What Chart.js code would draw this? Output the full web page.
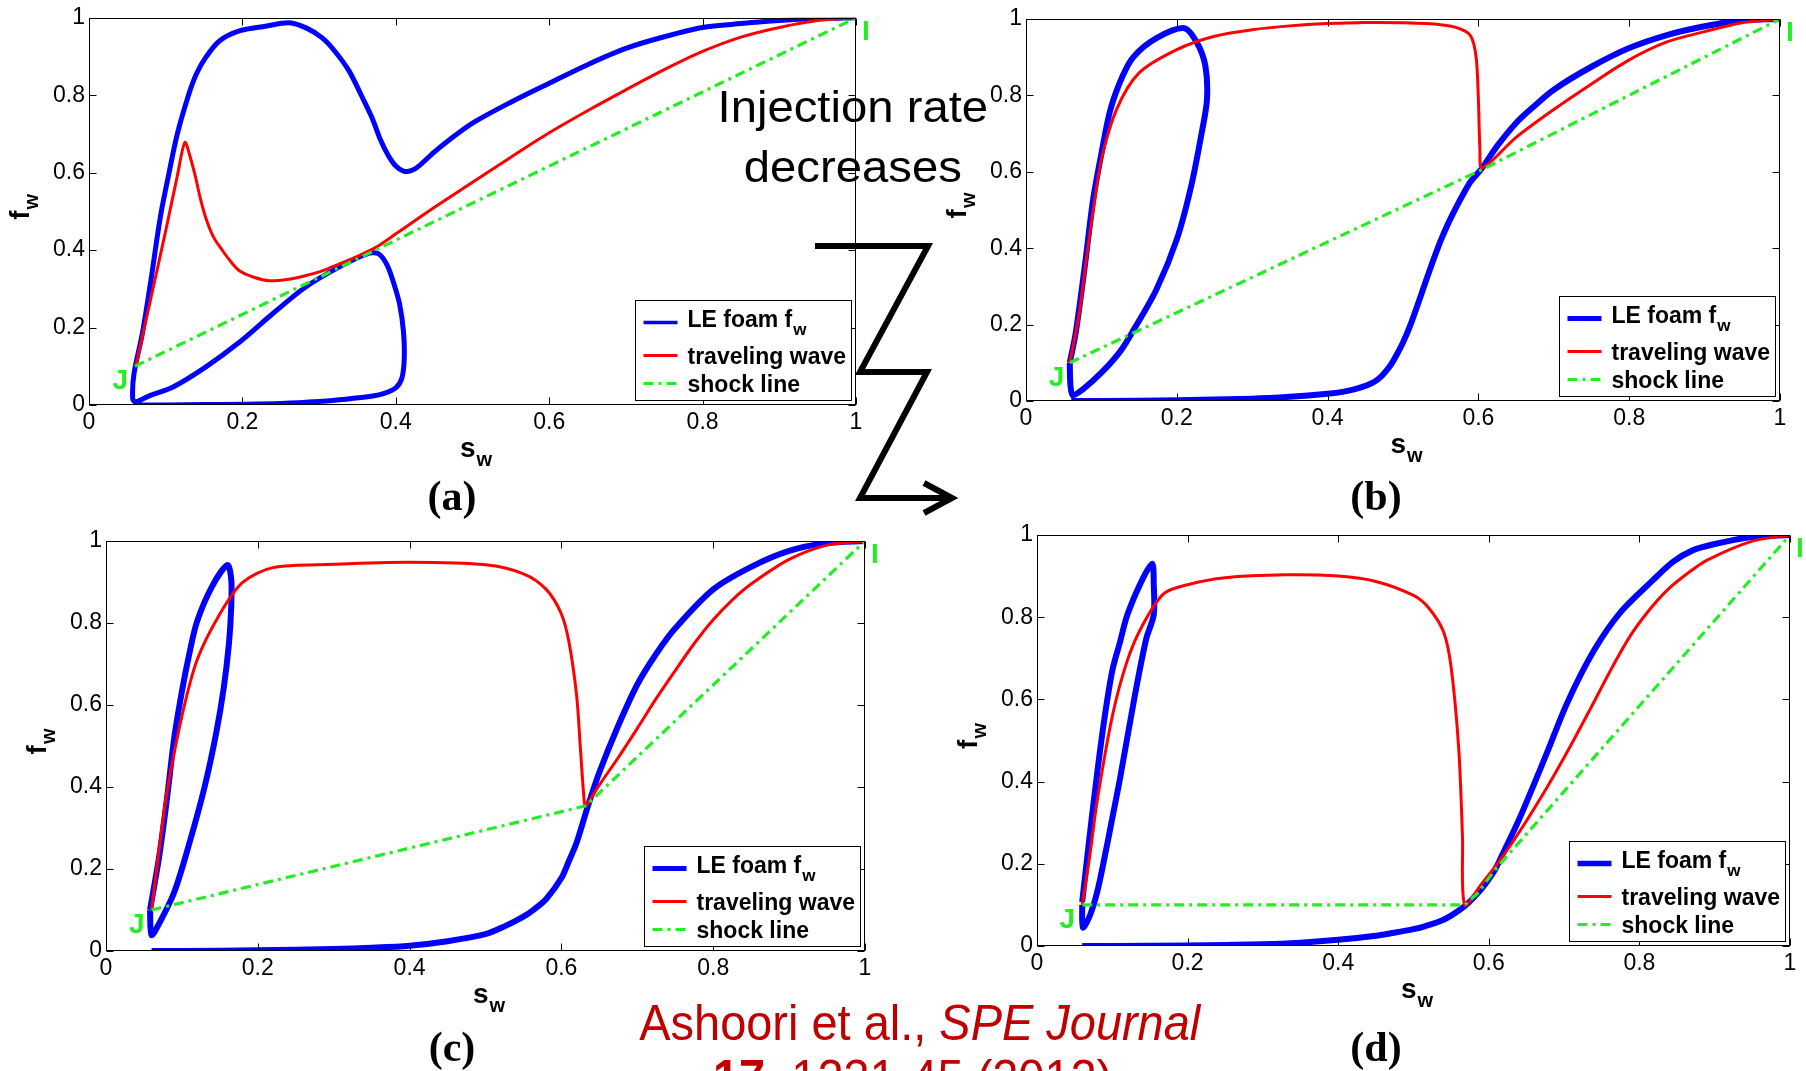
<!DOCTYPE html>
<html>
<head>
<meta charset="utf-8">
<script src="https://cdn.jsdelivr.net/npm/chart.js@4.4.1/dist/chart.umd.min.js"></script>
<style>
  html, body { margin:0; padding:0; background:#fff; }
  body { width:1806px; height:1071px; overflow:hidden; position:relative; font-family:"Liberation Sans", Arial, sans-serif; }
  canvas.panel { position:absolute; left:0; top:0; }
  .abs { position:absolute; white-space:nowrap; line-height:1; }
  .center { text-align:center; }
  .center > span { display:inline-block; transform-origin:50% 50%; }
  .note { font-size:45px; color:#000; }
  .tag { font-family:"Liberation Serif", "Times New Roman", serif; font-weight:bold; font-size:42px; color:#000; }
  .cite { font-size:50px; color:#c00000; }
  svg { position:absolute; left:0; top:0; }
</style>
</head>
<body>
<canvas id="cA" class="panel" width="1806" height="1071"></canvas>
<canvas id="cB" class="panel" width="1806" height="1071"></canvas>
<canvas id="cC" class="panel" width="1806" height="1071"></canvas>
<canvas id="cD" class="panel" width="1806" height="1071"></canvas>

<svg width="1806" height="1071" viewBox="0 0 1806 1071">
  <polyline points="815,246 928,246 860,372 927,372 860,498 950,498" fill="none" stroke="#000" stroke-width="6" stroke-linejoin="miter"/>
  <polyline points="924,483 952,498 924,513" fill="none" stroke="#000" stroke-width="6" stroke-linejoin="miter"/>
</svg>

<div class="abs center note" style="left:653px;width:400px;top:83.9px"><span style="transform:scaleX(1.05)">Injection rate</span></div>
<div class="abs center note" style="left:653px;width:400px;top:143.9px"><span style="transform:scaleX(1.05)">decreases</span></div>

<div class="abs center tag" style="left:352px;width:200px;top:474.8px"><span id="tagA"></span></div>
<div class="abs center tag" style="left:1276px;width:200px;top:474.8px"><span id="tagB"></span></div>
<div class="abs center tag" style="left:352px;width:200px;top:1025.8px"><span id="tagC"></span></div>
<div class="abs center tag" style="left:1276px;width:200px;top:1025.8px"><span id="tagD"></span></div>

<div class="abs center cite" style="left:420px;width:1000px;top:997.7px"><span id="cite1">Ashoori et al., <i>SPE Journal</i></span></div>
<div class="abs center cite" style="left:413px;width:1000px;top:1052.7px"><span id="cite2"><b>17</b>, 1231-45 (2012)</span></div>

<script>
// ---------------- data ----------------
const xTicks = [0, 0.2, 0.4, 0.6, 0.8, 1];
const yTicks = [0, 0.2, 0.4, 0.6, 0.8, 1];
const seriesLabels = ['LE foam f_w', 'traveling wave', 'shock line'];
const panelTags = ['(a)', '(b)', '(c)', '(d)'];
const xTitle = ['s', 'w'];
const yTitle = ['f', 'w'];
const pointJ = [0.06, 0.1];
const pointI = [1, 1];

// panel (a)  [s_w, f_w]
const foamA = [[1,1],[0.95,0.998],[0.9,0.993],[0.85,0.985],[0.8,0.975],[0.75,0.951],[0.7,0.921],[0.65,0.879],[0.6,0.831],[0.55,0.782],[0.5,0.728],[0.47,0.685],[0.45,0.653],[0.43,0.617],[0.42,0.605],[0.41,0.604],[0.4,0.617],[0.39,0.645],[0.38,0.685],[0.369,0.742],[0.355,0.8],[0.339,0.863],[0.32,0.915],[0.304,0.948],[0.285,0.972],[0.261,0.987],[0.23,0.978],[0.196,0.966],[0.17,0.94],[0.152,0.897],[0.14,0.855],[0.13,0.802],[0.115,0.699],[0.104,0.596],[0.093,0.485],[0.08,0.313],[0.0695,0.184],[0.0587,0.081],[0.057,0.016],[0.061,0.008],[0.08,0.025],[0.109,0.046],[0.152,0.098],[0.196,0.162],[0.239,0.235],[0.282,0.304],[0.326,0.356],[0.365,0.392],[0.378,0.39],[0.389,0.36],[0.398,0.31],[0.405,0.26],[0.41,0.19],[0.411,0.12],[0.408,0.07],[0.4,0.044],[0.385,0.03],[0.37,0.023],[0.33,0.014],[0.3,0.009],[0.25,0.004],[0.2,0.002],[0.15,0.001],[0.1,0],[0.06,0]];
const waveA = [[0.061,0.1],[0.08,0.27],[0.1,0.45],[0.115,0.59],[0.125,0.678],[0.132,0.64],[0.139,0.588],[0.145,0.535],[0.152,0.485],[0.162,0.435],[0.174,0.399],[0.185,0.37],[0.196,0.347],[0.215,0.33],[0.235,0.321],[0.26,0.325],[0.282,0.334],[0.305,0.347],[0.326,0.364],[0.35,0.384],[0.374,0.407],[0.4,0.442],[0.45,0.51],[0.5,0.575],[0.55,0.64],[0.6,0.703],[0.65,0.76],[0.7,0.814],[0.75,0.866],[0.8,0.913],[0.85,0.95],[0.9,0.975],[0.95,0.993],[1,1]];
const shockA = [[0.06,0.1],[1,1]];

// panel (b)
const foamB = [[1,1],[0.95,0.997],[0.9,0.981],[0.85,0.958],[0.8,0.924],[0.75,0.875],[0.7,0.815],[0.67,0.765],[0.65,0.728],[0.625,0.668],[0.605,0.61],[0.59,0.575],[0.58,0.542],[0.57,0.505],[0.56,0.465],[0.55,0.42],[0.54,0.368],[0.53,0.312],[0.52,0.255],[0.51,0.2],[0.5,0.153],[0.49,0.115],[0.483,0.092],[0.472,0.066],[0.46,0.048],[0.44,0.033],[0.42,0.024],[0.4,0.019],[0.35,0.011],[0.3,0.006],[0.2,0.002],[0.1,0],[0.06,0],[0.06,null],[0.058,0.1],[0.059,0.04],[0.062,0.015],[0.075,0.03],[0.1,0.074],[0.125,0.13],[0.143,0.187],[0.173,0.292],[0.2,0.423],[0.219,0.562],[0.233,0.702],[0.24,0.789],[0.238,0.876],[0.227,0.937],[0.21,0.976],[0.173,0.95],[0.143,0.902],[0.128,0.85],[0.112,0.763],[0.101,0.658],[0.089,0.527],[0.078,0.353],[0.066,0.179],[0.058,0.1]];
const waveB = [[0.058,0.1],[0.07,0.222],[0.08,0.37],[0.09,0.51],[0.1,0.632],[0.12,0.763],[0.15,0.859],[0.2,0.92],[0.25,0.955],[0.3,0.972],[0.35,0.982],[0.4,0.988],[0.45,0.991],[0.5,0.99],[0.55,0.985],[0.575,0.975],[0.59,0.955],[0.597,0.9],[0.6,0.79],[0.602,0.66],[0.605,0.61],[0.65,0.69],[0.7,0.763],[0.75,0.83],[0.8,0.893],[0.85,0.94],[0.9,0.967],[0.95,0.99],[1,1]];
const shockB = [[0.058,0.1],[0.605,0.606],[1,1]];

// panel (c)
const foamC = [[1,1],[0.95,0.995],[0.9,0.976],[0.85,0.937],[0.8,0.882],[0.75,0.787],[0.725,0.725],[0.7,0.65],[0.675,0.55],[0.65,0.436],[0.635,0.354],[0.62,0.264],[0.61,0.22],[0.6,0.178],[0.58,0.127],[0.565,0.103],[0.55,0.084],[0.525,0.06],[0.5,0.041],[0.45,0.024],[0.4,0.013],[0.35,0.008],[0.3,0.005],[0.2,0.002],[0.1,0],[0.06,0],[0.06,null],[0.058,0.1],[0.06,0.039],[0.07,0.067],[0.09,0.144],[0.11,0.264],[0.13,0.401],[0.145,0.53],[0.155,0.64],[0.162,0.75],[0.165,0.84],[0.165,0.907],[0.16,0.941],[0.14,0.89],[0.12,0.804],[0.11,0.727],[0.1,0.633],[0.09,0.521],[0.08,0.367],[0.07,0.23],[0.058,0.1]];
const waveC = [[0.06,0.1],[0.07,0.247],[0.08,0.384],[0.1,0.573],[0.12,0.71],[0.15,0.822],[0.18,0.899],[0.22,0.935],[0.3,0.943],[0.4,0.948],[0.5,0.942],[0.55,0.92],[0.58,0.882],[0.6,0.822],[0.61,0.753],[0.62,0.624],[0.625,0.496],[0.63,0.367],[0.632,0.354],[0.65,0.405],[0.675,0.472],[0.7,0.543],[0.725,0.616],[0.75,0.684],[0.775,0.75],[0.8,0.808],[0.825,0.856],[0.85,0.895],[0.9,0.955],[0.95,0.99],[1,1]];
const shockC = [[0.06,0.1],[0.632,0.354],[1,1]];

// panel (d)
const foamD = [[1,1],[0.95,0.995],[0.9,0.978],[0.87,0.962],[0.845,0.935],[0.818,0.89],[0.774,0.81],[0.74,0.72],[0.705,0.595],[0.675,0.46],[0.64,0.307],[0.62,0.23],[0.608,0.185],[0.595,0.15],[0.58,0.118],[0.568,0.097],[0.55,0.074],[0.535,0.06],[0.515,0.048],[0.5,0.041],[0.47,0.031],[0.45,0.025],[0.4,0.015],[0.35,0.008],[0.3,0.004],[0.2,0.001],[0.1,0],[0.06,0],[0.06,null],[0.06,0.1],[0.061,0.045],[0.07,0.073],[0.08,0.132],[0.09,0.218],[0.1,0.311],[0.11,0.405],[0.13,0.61],[0.145,0.747],[0.155,0.806],[0.155,0.883],[0.153,0.93],[0.14,0.892],[0.12,0.806],[0.11,0.738],[0.1,0.67],[0.09,0.559],[0.08,0.422],[0.07,0.269],[0.06,0.107]];
const waveD = [[0.06,0.1],[0.07,0.218],[0.08,0.354],[0.1,0.559],[0.12,0.695],[0.14,0.78],[0.168,0.857],[0.2,0.879],[0.25,0.896],[0.33,0.903],[0.4,0.9],[0.45,0.887],[0.5,0.853],[0.52,0.823],[0.54,0.764],[0.55,0.678],[0.56,0.482],[0.565,0.269],[0.568,0.1],[0.59,0.15],[0.615,0.209],[0.645,0.29],[0.677,0.385],[0.705,0.475],[0.734,0.574],[0.76,0.665],[0.787,0.752],[0.812,0.815],[0.837,0.866],[0.865,0.908],[0.89,0.939],[0.95,0.985],[1,1]];
const shockD = [[0.06,0.1],[0.568,0.1],[0.585,0.128],[0.608,0.185],[1,1]];

// ---------------- layout & style ----------------
const PAGE_W = 1806, PAGE_H = 1071;
const PLOT_BOX = {
  A: {l:89,   t:17,  r:856,  b:405},
  B: {l:1026, t:19,  r:1780, b:401},
  C: {l:106,  t:541, r:865,  b:951},
  D: {l:1037, t:535, r:1790, b:946}
};
const YAXIS_W = 60, XAXIS_H = 40;
const FONT = '"Liberation Sans", Arial, sans-serif';
const COLORS = ['#0000ff', '#ff0000', '#22ee22'];
const DASHES = [[], [], [10, 5, 3, 5]];

document.getElementById('tagA').textContent = panelTags[0];
document.getElementById('tagB').textContent = panelTags[1];
document.getElementById('tagC').textContent = panelTags[2];
document.getElementById('tagD').textContent = panelTags[3];

function toXY(pairs) { return pairs.map(p => ({x: p[0], y: p[1]})); }

function drawSubText(ctx, main, sub, x, y, mainFont, subFont, subShift, align) {
  ctx.font = mainFont;
  const wm = ctx.measureText(main).width;
  ctx.font = subFont;
  const ws = ctx.measureText(sub).width;
  let start = x;
  if (align === 'center') start = x - (wm + ws) / 2;
  ctx.textAlign = 'left';
  ctx.textBaseline = 'alphabetic';
  ctx.font = mainFont;
  ctx.fillText(main, start, y);
  ctx.font = subFont;
  ctx.fillText(sub, start + wm + 1, y + subShift);
}

const framePlugin = {
  id: 'mframe',
  afterDatasetsDraw(chart) {
    const ctx = chart.ctx;
    const a = chart.chartArea;
    const xs = chart.scales.x, ys = chart.scales.y;
    ctx.save();
    ctx.strokeStyle = '#000';
    ctx.lineWidth = 1;
    const L = Math.round(a.left) + 0.5, R = Math.round(a.right) - 0.5;
    const T = Math.round(a.top) + 0.5, B = Math.round(a.bottom) - 0.5;
    ctx.strokeRect(L, T, R - L, B - T);
    const tl = 7;
    ctx.beginPath();
    xs.ticks.forEach(t => {
      const px = Math.round(xs.getPixelForValue(t.value)) + 0.5;
      ctx.moveTo(px, B); ctx.lineTo(px, B - tl);
      ctx.moveTo(px, T); ctx.lineTo(px, T + tl);
    });
    ys.ticks.forEach(t => {
      const py = Math.round(ys.getPixelForValue(t.value)) + 0.5;
      ctx.moveTo(L, py); ctx.lineTo(L + tl, py);
      ctx.moveTo(R, py); ctx.lineTo(R - tl, py);
    });
    ctx.stroke();
    ctx.restore();
  },
  afterDraw(chart, args, opts) {
    const ctx = chart.ctx;
    const a = chart.chartArea;
    const xs = chart.scales.x, ys = chart.scales.y;
    ctx.save();
    ctx.fillStyle = '#000';
    drawSubText(ctx, xTitle[0], xTitle[1], (a.left + a.right) / 2 + 3, a.bottom + 52,
      'bold 28px ' + FONT, 'bold 20px ' + FONT, 9, 'center');
    ctx.save();
    ctx.translate(a.left - 60, (a.top + a.bottom) / 2 - 4);
    ctx.rotate(-Math.PI / 2);
    drawSubText(ctx, yTitle[0], yTitle[1], 0, 0, 'bold 28px ' + FONT, 'bold 20px ' + FONT, 9, 'center');
    ctx.restore();
    ctx.fillStyle = COLORS[2];
    ctx.font = 'bold 28px ' + FONT;
    ctx.textBaseline = 'alphabetic';
    const jx = xs.getPixelForValue(pointJ[0]), jy = ys.getPixelForValue(pointJ[1]);
    ctx.textAlign = 'right';
    ctx.fillText('J', jx - 7, jy + 23);
    const ix = xs.getPixelForValue(pointI[0]), iy = ys.getPixelForValue(pointI[1]);
    ctx.textAlign = 'left';
    ctx.fillText('I', ix + 6, iy + 22);
    const bw = 216, bh = 100;
    const bx = Math.round(a.right - 5 - bw) + 0.5, by = Math.round(a.bottom - 5 - bh) + 0.5;
    ctx.fillStyle = '#fff';
    ctx.fillRect(bx, by, bw, bh);
    ctx.strokeStyle = '#000';
    ctx.lineWidth = 1;
    ctx.setLineDash([]);
    ctx.strokeRect(bx, by, bw, bh);
    const lineY = [22, 55, 83], textY = [26, 63, 91];
    chart.data.datasets.forEach((ds, i) => {
      ctx.strokeStyle = ds.borderColor;
      ctx.lineWidth = Math.min(ds.borderWidth, opts.legendLineMax || 5);
      ctx.setLineDash(ds.borderDash || []);
      ctx.beginPath();
      ctx.moveTo(bx + 8, by + lineY[i]);
      ctx.lineTo(bx + 42, by + lineY[i]);
      ctx.stroke();
      ctx.setLineDash([]);
      ctx.fillStyle = '#000';
      const parts = ds.label.split('_');
      drawSubText(ctx, parts[0], parts[1] || '', bx + 52, by + textY[i],
        'bold 23px ' + FONT, 'bold 17px ' + FONT, 8, 'left');
    });
    ctx.restore();
  }
};

function buildChart(canvasId, key, foam, wave, shock, blueWidth, legendLineMax) {
  const box = PLOT_BOX[key];
  const series = [foam, wave, shock];
  const widths = [blueWidth, 3, 3.2];
  const datasets = series.map((s, i) => ({
    label: seriesLabels[i],
    data: toXY(s),
    borderColor: COLORS[i],
    backgroundColor: COLORS[i],
    borderWidth: widths[i],
    borderDash: DASHES[i],
    showLine: true,
    pointRadius: 0,
    pointHoverRadius: 0,
    tension: i === 2 ? 0 : 0.3,
    spanGaps: false,
    order: 3 - i
  }));
  const tickFont = {family: FONT, size: 23};
  return new Chart(document.getElementById(canvasId), {
    type: 'scatter',
    data: {datasets},
    options: {
      responsive: false,
      animation: false,
      devicePixelRatio: 1,
      events: [],
      layout: {padding: {left: box.l - YAXIS_W, top: box.t, right: PAGE_W - box.r, bottom: PAGE_H - box.b - XAXIS_H}},
      scales: {
        x: {
          type: 'linear', min: 0, max: 1,
          afterFit(s) { s.height = XAXIS_H; },
          afterBuildTicks(s) { s.ticks = xTicks.map(v => ({value: v})); },
          grid: {display: false, drawTicks: false},
          border: {display: false},
          ticks: {padding: 4, color: '#000', font: tickFont, autoSkip: false, maxRotation: 0, callback: v => String(v)}
        },
        y: {
          type: 'linear', min: 0, max: 1,
          afterFit(s) { s.width = YAXIS_W; },
          afterBuildTicks(s) { s.ticks = yTicks.map(v => ({value: v})); },
          grid: {display: false, drawTicks: false},
          border: {display: false},
          ticks: {padding: 4, color: '#000', font: tickFont, autoSkip: false, callback: v => String(v)}
        }
      },
      plugins: {
        legend: {display: false},
        tooltip: {enabled: false},
        mframe: {legendLineMax}
      }
    },
    plugins: [framePlugin]
  });
}

buildChart('cA', 'A', foamA, waveA, shockA, 5, 3.5);
buildChart('cB', 'B', foamB, waveB, shockB, 6, 5);
buildChart('cC', 'C', foamC, waveC, shockC, 6, 5);
buildChart('cD', 'D', foamD, waveD, shockD, 6, 5.5);

(function () {
  const c1 = document.getElementById('cite1');
  const c2 = document.getElementById('cite2');
  const w = c1.getBoundingClientRect().width;
  const k = w > 0 ? 561 / w : 1;
  c1.style.transform = 'scaleX(' + k + ')';
  c2.style.transform = 'scaleX(' + k + ')';
})();
</script>
</body>
</html>
